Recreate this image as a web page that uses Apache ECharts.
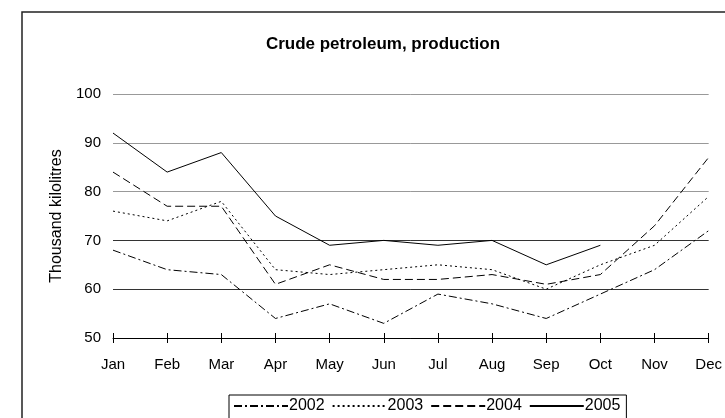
<!DOCTYPE html>
<html>
<head>
<meta charset="utf-8">
<script src="https://cdn.jsdelivr.net/npm/echarts@6/dist/echarts.min.js"></script>
<style>
  html, body { margin: 0; padding: 0; background: #fff; }
  #chart { width: 725px; height: 418px; }
</style>
</head>
<body>
<div id="chart"></div>
<script>
const months = ['Jan', 'Feb', 'Mar', 'Apr', 'May', 'Jun', 'Jul', 'Aug', 'Sep', 'Oct', 'Nov', 'Dec']
const y2002 = [68, 64, 63, 54, 57, 53, 59, 57, 54, 59, 64, 72]
const y2003 = [76, 74, 78, 64, 63, 64, 65, 64, 60, 65, 69, 79]
const y2004 = [84, 77, 77, 61, 65, 62, 62, 63, 61, 63, 73, 87]
const y2005 = [92, 84, 88, 75, 69, 70, 69, 70, 65, 69, null, null]
const yTicks = [50, 60, 70, 80, 90, 100]

const font = 'Liberation Sans, Arial, sans-serif'
const chart = echarts.init(document.getElementById('chart'))

function line(name, data, dash) {
  return {
    name: name,
    type: 'line',
    data: data,
    symbol: 'none',
    connectNulls: false,
    animation: false,
    lineStyle: { color: '#000', width: 1, type: dash },
    itemStyle: { color: '#000' },
  }
}

chart.setOption({
  backgroundColor: '#fff',
  title: {
    text: 'Crude petroleum, production',
    left: 378,
    textAlign: 'center',
    top: 31,
    textStyle: { fontFamily: font, fontSize: 17, fontWeight: 'bold', color: '#000' },
  },
  // outer frame of the chart
  graphic: [{
    type: 'rect',
    shape: { x: 22, y: 12, width: 740, height: 440 },
    style: { fill: 'none', stroke: '#222', lineWidth: 1.5 },
    silent: true,
  }],
  legend: {
    top: 395,
    left: 229,
    itemWidth: 54,
    itemHeight: 10,
    itemGap: 7,
    padding: [3, 6, 8, 4],
    borderColor: '#000',
    borderWidth: 1,
    itemStyle: { opacity: 0 },
    textStyle: { fontFamily: font, fontSize: 16, color: '#000', padding: [0, 0, 0, -4] },
    data: ['2002', '2003', '2004', '2005'],
  },
  grid: { left: 113, right: 4, top: 94, bottom: 80 },
  xAxis: [
    {
      type: 'category',
      data: months,
      boundaryGap: false,
      axisLine: { lineStyle: { color: '#000', width: 1 } },
      axisTick: { show: true, length: 5, lineStyle: { color: '#000' } },
      axisLabel: { margin: 19, fontFamily: font, fontSize: 15, color: '#000' },
    },
    {
      // ticks that cross the axis upwards
      type: 'category',
      data: months,
      boundaryGap: false,
      position: 'bottom',
      axisLine: { show: false },
      axisTick: { show: true, inside: true, length: 5, lineStyle: { color: '#000' } },
      axisLabel: { show: false },
    },
  ],
  yAxis: {
    type: 'value',
    min: yTicks[0],
    max: yTicks[yTicks.length - 1],
    interval: 10,
    name: 'Thousand kilolitres',
    nameLocation: 'middle',
    nameGap: 43,
    nameTextStyle: { fontFamily: font, fontSize: 16, color: '#000' },
    axisLine: { show: false },
    axisTick: { show: false },
    axisLabel: { margin: 12, fontFamily: font, fontSize: 15, color: '#000' },
    splitLine: { lineStyle: { color: ['#333', '#333', '#333', '#999', '#999', '#999'], width: 1 } },
  },
  series: [
    line('2002', y2002, [8, 3, 2, 3]),
    line('2003', y2003, [2, 3]),
    line('2004', y2004, [8, 4]),
    line('2005', y2005, 'solid'),
  ],
})
</script>
</body>
</html>
